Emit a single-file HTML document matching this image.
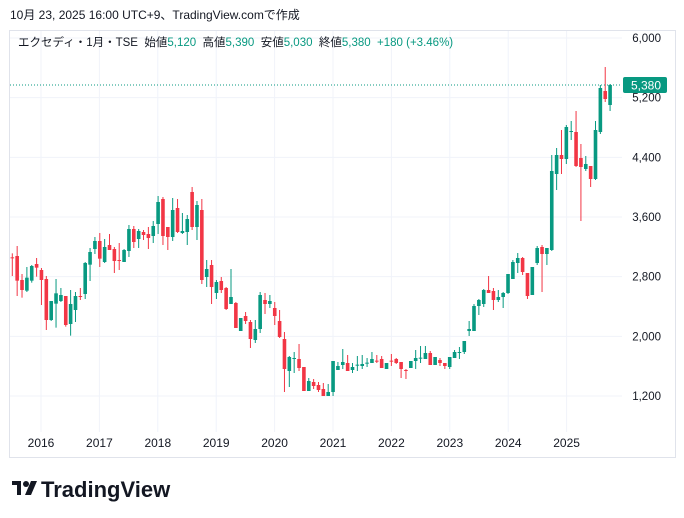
<!DOCTYPE html>
<html><head><meta charset="utf-8"><style>
body{margin:0;background:#fff;width:684px;height:518px;overflow:hidden;font-family:"Liberation Sans","Noto Sans CJK JP",sans-serif;}
svg{position:absolute;left:0;top:0}
</style></head><body>
<svg id="s" width="684" height="518" xmlns="http://www.w3.org/2000/svg" font-family="Liberation Sans, Noto Sans CJK JP, sans-serif">
<text x="10" y="19" font-size="12" fill="#131722">10月 23, 2025 16:00 UTC+9、TradingView.comで作成</text>
<rect x="9.5" y="30.5" width="666" height="427" fill="none" stroke="#e0e3eb" stroke-width="1"/>
<g id="grid" stroke="#f0f3fa" stroke-width="1"></g>
<g id="c"></g>
<line x1="10" y1="85" x2="620" y2="85" stroke="#089981" stroke-width="1" stroke-dasharray="1,2"/>
<g font-size="11.5" fill="#131722" text-anchor="end" id="ax"></g>
<rect x="623" y="77" width="44" height="16" rx="2" fill="#089981"/>
<text x="661" y="89.5" font-size="12" fill="#fff" text-anchor="end">5,380</text>
<text x="18" y="46" font-size="11.5" fill="#131722">エクセディ・1月・TSE&#160;&#160;始値<tspan fill="#089981">5,120</tspan>&#160;&#160;高値<tspan fill="#089981">5,390</tspan>&#160;&#160;安値<tspan fill="#089981">5,030</tspan>&#160;&#160;終値<tspan fill="#089981">5,380&#160;&#160;+180 (+3.46%)</tspan></text>
<g font-size="12" fill="#131722" text-anchor="middle" id="yr"></g>
<g transform="translate(12,479)" fill="#131722">
<rect x="0" y="2" width="9" height="4"/><rect x="5" y="2" width="4" height="14"/>
<circle cx="14" cy="5" r="3"/>
<polygon points="19,2 25,2 19,16 13,16"/>
</g>
<text x="41" y="497" font-size="22" font-weight="bold" fill="#131722">TradingView</text>
</svg>
<script>
var NS="http://www.w3.org/2000/svg";
function el(p,t,a){var e=document.createElementNS(NS,t);for(var k in a)e.setAttribute(k,a[k]);p.appendChild(e);return e;}
var grid=document.getElementById('grid'),ax=document.getElementById('ax'),yr=document.getElementById('yr');
var prices=[6000,5200,4400,3600,2800,2000,1200];
prices.forEach(function(p){var y=38+(6000-p)*0.07458;el(grid,'line',{x1:10,x2:622,y1:y,y2:y});
 var t=el(ax,'text',{x:661,y:y+4});t.textContent=p.toLocaleString('en-US');});
for(var i=0;i<10;i++){var x=41+i*58.4;el(grid,'line',{x1:x,x2:x,y1:31,y2:432});var t=el(yr,'text',{x:x,y:447});t.textContent=2016+i;}
var A=[['r',262,264,250,318],['r',258,332,228,378],['r',330,360,312,383],['g',323,362,291,366],['g',288,332,285,338],['r',282,293,264,320],['r',300,330,294,405],['r',327,450,318,480],['g',393,450,393,453],['g',370,401,327,473],['g',375,393,354,396],['r',378,465,378,470],['g',402,462,360,497],['g',378,420,366,456],['r',378,381,354,390],['g',279,372,276,387],['g',246,284,234,333],['g',213,237,201,252],['r',213,266,189,291],['g',231,276,207,279],['r',225,240,192,240],['r',237,273,231,309],['r',270,273,219,300],['g',240,276,237,276],['g',177,243,165,261],['r',177,216,168,234],['g',183,207,177,234],['r',186,195,180,210],['r',192,204,171,237],['g',168,198,153,219],['g',96,162,78,192],['r',87,198,81,225],['r',171,201,171,240],['g',120,201,84,213],['r',114,186,87,189],['g',183,189,129,192],['g',147,186,135,225],['r',66,171,51,180],['g',105,171,93,210],['r',120,330,87,342],['g',297,321,270,351],['r',285,351,270,402],['g',336,369,330,387],['r',333,360,321,369],['r',354,417,351,420],['g',381,402,297,402],['r',399,474,396,474],['g',444,483,444,483],['r',438,453,426,462],['r',456,507,450,534],['g',477,510,450,519],['g',375,477,366,489],['r',390,402,369,432],['g',393,402,375,414],['r',414,438,396,465],['r',453,501,420,504],['r',507,597,486,666],['g',561,603,558,651],['g',564,567,546,609],['r',567,594,522,603],['r',591,663,591,663],['g',633,663,624,663],['r',636,648,627,657],['r',645,660,636,666],['r',657,678,639,678],['g',666,678,642,678]];
var B=[['g',93,186,93,198],['g',108,120,96,120],['g',96,105,57,117],['r',99,123,75,123],['g',111,120,99,129],['g',104,106,78,123],['g',102,108,75,117],['g',98,100,84,111],['g',87,99,66,99],['r',92,94,75,99],['r',87,114,78,114],['g',99,117,99,117],['r',92,94,72,108],['r',87,99,84,102]];
var C=[['r',906,927,906,954],['r',930,933,927,957],['g',903,924,903,924],['g',894,903,870,927],['g',893,895,858,909],['g',879,897,858,897],['r',879,915,873,915],['g',891,915,891,915],['r',900,909,894,918],['r',909,918,909,927],['g',891,921,891,927],['g',876,894,870,894],['g',876,879,861,897],['g',843,876,843,882],['g',807,813,783,828],['g',738,813,732,813],['g',720,738,717,765],['g',690,732,687,741],['r',690,699,648,699],['r',693,720,684,750],['g',711,720,690,726],['g',699,711,696,744],['g',642,699,642,702],['g',606,657,600,657],['g',594,609,579,639],['r',594,636,591,645],['r',639,708,639,717],['g',621,705,621,705],['g',564,609,558,615],['r',561,582,555,696],['g',564,582,564,615],['g',333,570,285,573],['g',285,342,264,390],['r',285,297,210,342],['g',201,297,195,312],['g',213,216,183,240],['r',216,318,153,321],['r',294,321,252,483],['g',312,327,288,333],['r',318,357,318,381],['g',210,357,183,360],['g',84,216,75,222],['r',93,117,21,126],['g',75,135,72,153]];
var all=[];A.forEach(function(d){all.push([d,170]);});B.forEach(function(d){all.push([d,330]);});C.forEach(function(d){all.push([d,60]);});
var cg=document.getElementById('c');
all.forEach(function(it,i){var d=it[0],o=it[1];var x=12.3+i*4.86;var col=d[0]=='g'?'#089981':'#F23645';
 var bt=o+d[1]/3,bb=o+d[2]/3,wt=o+d[3]/3,wb=o+d[4]/3;
 el(cg,'rect',{x:x-0.5,y:wt,width:1,height:Math.max(wb-wt,1),fill:col});
 el(cg,'rect',{x:x-1.8,y:bt,width:3.6,height:Math.max(bb-bt,1),fill:col});});
</script>
</body></html>
